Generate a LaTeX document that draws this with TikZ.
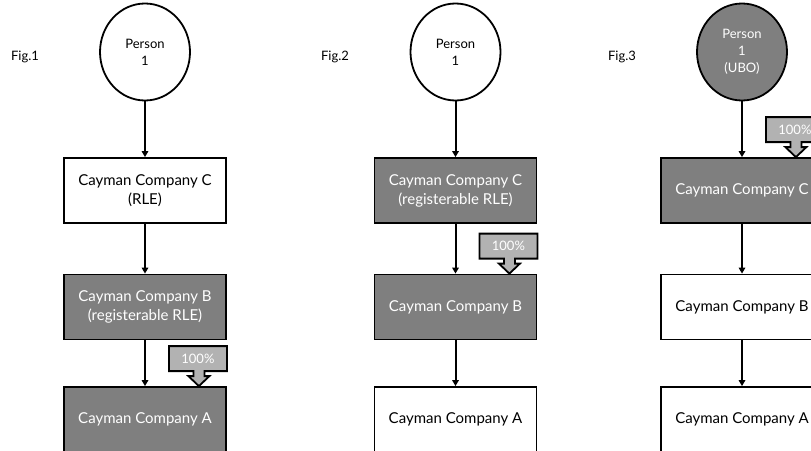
\documentclass[tikz,border=0pt]{standalone}
\usepackage{fontspec}
\setmainfont{Lato}
\usetikzlibrary{arrows.meta,shapes.geometric}
\definecolor{darkfill}{HTML}{7F7F7F}
\definecolor{pctfill}{HTML}{B2B2B2}
\begin{document}
\begin{tikzpicture}[x=1pt,y=-1pt,
personnode/.style={ellipse, draw=black, line width=1.8pt, minimum width=90pt, minimum height=97pt, inner sep=0pt, align=center, font=\fontsize{13}{17}\selectfont},
companynode/.style={rectangle, draw=black, fill=white, line width=1.8pt, minimum width=162pt, minimum height=65pt, inner sep=0pt, align=center, font=\fontsize{15}{19}\selectfont},
darknode/.style={fill=darkfill, text=white},
fignode/.style={font=\fontsize{13}{15}\selectfont},
pctbox/.style={draw=black, fill=pctfill, line width=1.8pt, line join=miter},
pcttext/.style={text=white, inner sep=0pt, font=\fontsize{13}{15}\selectfont},
link/.style={line width=2pt, -{Triangle[length=6pt,width=6.5pt]}},
]
\clip (0,0) rectangle (811,450);
\fill[white] (0,0) rectangle (811,450);
\node[fignode] (fig1) at (25,57) {Fig.1};
\node[fignode] (fig2) at (335,57) {Fig.2};
\node[fignode] (fig3) at (622,57) {Fig.3};

\node[personnode] (person1) at (145,52) {Person\\1};
\node[companynode] (companyC1) at (145,190.5) {Cayman Company C\\(RLE)};
\node[companynode, darknode] (companyB1) at (145,307) {Cayman Company B\\(registerable RLE)};
\node[companynode, darknode] (companyA1) at (145,419.5) {Cayman Company A};

\node[personnode] (person2) at (455.5,52) {Person\\1};
\node[companynode, darknode] (companyC2) at (455.5,190.5) {Cayman Company C\\(registerable RLE)};
\node[companynode, darknode] (companyB2) at (455.5,307) {Cayman Company B};
\node[companynode] (companyA2) at (455.5,419.5) {Cayman Company A};

\node[personnode, darknode, fill=darkfill] (person3) at (742,52) {Person\\1\\(UBO)};
\node[companynode, darknode] (companyC3) at (742,190.5) {Cayman Company C};
\node[companynode] (companyB3) at (742,307) {Cayman Company B};
\node[companynode] (companyA3) at (742,419.5) {Cayman Company A};

\foreach \f in {1,2,3} {
  \draw[link] (person\f) -- (companyC\f);
  \draw[link] (companyC\f) -- (companyB\f);
  \draw[link] (companyB\f) -- (companyA\f);
}

\foreach \b in {companyA1,companyB2,companyC3} {
  \draw[pctbox] ([xshift=-28pt]\b.north east) -- ++(-10.5,-10) -- ++(5,0) -- ++(0,-5) -- ++(-24.5,0) -- ++(0,-25) -- ++(58,0) -- ++(0,25) -- ++(-22.5,0) -- ++(0,5) -- ++(5,0) -- cycle;
  \node[pcttext] (pct\b) at ([shift={(-29,-27.5)}]\b.north east) {100\%};
}
\end{tikzpicture}
\end{document}
